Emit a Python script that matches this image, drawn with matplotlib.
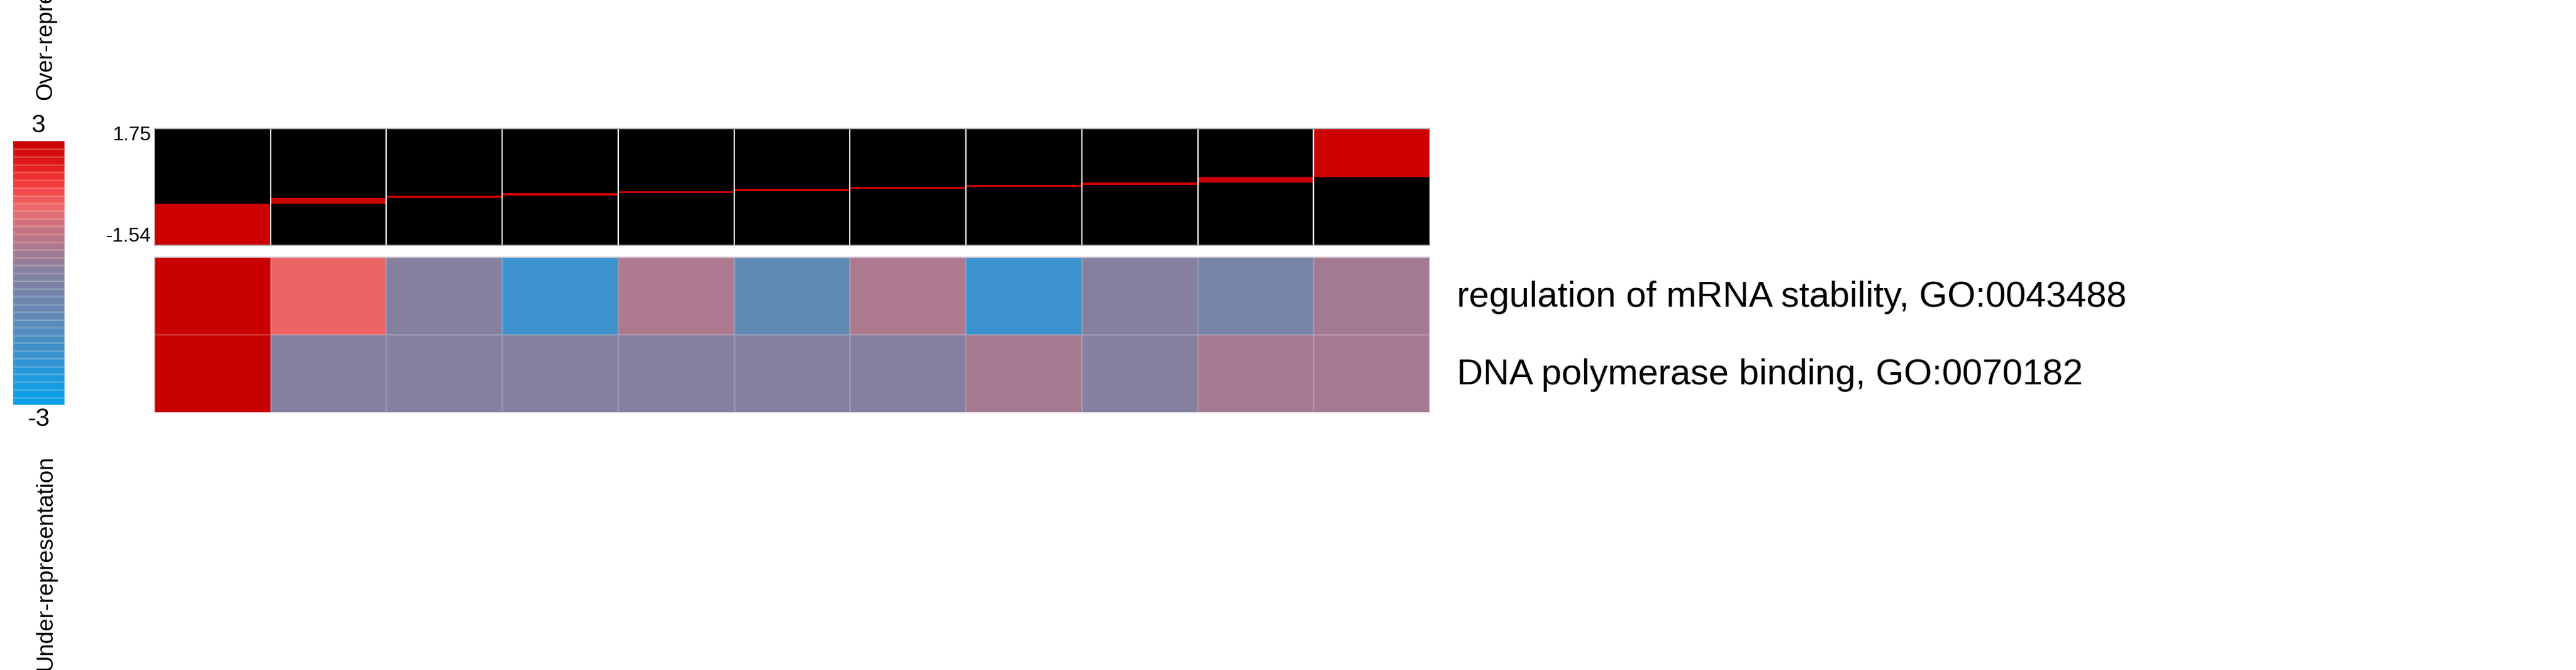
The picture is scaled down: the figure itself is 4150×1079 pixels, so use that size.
import numpy as np
import matplotlib
matplotlib.use("Agg")
import matplotlib.pyplot as plt
from matplotlib.colors import LinearSegmentedColormap, Normalize

plt.rcParams['font.family'] = ['Liberation Sans', 'DejaVu Sans']

# ---------------- data ----------------
bin_low = [-1.54, -0.37, -0.22, -0.15, -0.08, -0.02, 0.04, 0.10, 0.15, 0.23, 0.38]
bin_high = [-0.37, -0.22, -0.15, -0.08, -0.02, 0.04, 0.10, 0.15, 0.23, 0.38, 1.75]
range_ticks = [1.75, -1.54]

row_labels = ["regulation of mRNA stability, GO:0043488",
              "DNA polymerase binding, GO:0070182"]
row_mrna = [3.0, 1.55, 0.0, -1.8, 0.6, -1.0, 0.6, -1.8, 0.0, -0.38, 0.45]
row_dna = [3.0, 0.0, 0.0, 0.0, 0.0, 0.0, 0.0, 0.5, 0.0, 0.5, 0.5]

cbar_min, cbar_max = -3, 3
cbar_labels = ["3", "-3"]
cbar_titles = ["Over-representation", "Under-representation"]

# ---------------- colormap ----------------
anchors = [
    (0.000, (5, 160, 232)),
    (0.167, (50, 148, 210)),
    (0.333, (95, 138, 180)),
    (0.500, (132, 128, 160)),
    (0.583, (165, 122, 145)),
    (0.667, (200, 115, 128)),
    (0.750, (236, 106, 108)),
    (0.833, (246, 62, 62)),
    (0.917, (225, 25, 25)),
    (1.000, (200, 0, 0)),
]
cmap = LinearSegmentedColormap.from_list(
    "ipage", [(p, tuple(c / 255 for c in col)) for p, col in anchors])
norm = Normalize(vmin=cbar_min, vmax=cbar_max)

W, H = 4150, 1079
fig = plt.figure(figsize=(W / 100, H / 100), dpi=100)


def box(x0, y0, x1, y1):
    return [x0 / W, 1 - y1 / H, (x1 - x0) / W, (y1 - y0) / H]


n = len(bin_low)

# ---------------- top panel ----------------
ax_top = fig.add_axes(box(249, 207, 2303, 394.5))
ax_top.set_facecolor("black")
xs = np.arange(n)
ax_top.bar(xs, np.array(bin_high) - np.array(bin_low), bottom=bin_low,
           width=1.0, align="edge", color="#cc0000", linewidth=0)
for i in range(1, n):
    ax_top.axvline(i, color="white", lw=1.5)
ax_top.set_xlim(0, n)
ax_top.set_ylim(range_ticks[1], range_ticks[0])
ax_top.set_xticks([])
ax_top.set_yticks([])
for s in ["left", "right"]:
    ax_top.spines[s].set_visible(False)
for s in ["top", "bottom"]:
    ax_top.spines[s].set_color("#b0b0b0")
    ax_top.spines[s].set_linewidth(1.5)
ax_top.annotate(f"{range_ticks[0]:.2f}", xy=(0, range_ticks[0]), xytext=(-4, 3),
                textcoords="offset points", ha="right", va="top", fontsize=23)
ax_top.annotate(f"{range_ticks[1]:.2f}", xy=(0, range_ticks[1]), xytext=(-4, -1),
                textcoords="offset points", ha="right", va="bottom", fontsize=23)

# ---------------- heatmap ----------------
ax_hm = fig.add_axes(box(249, 414, 2303, 664))
data = np.array([row_mrna, row_dna])
ax_hm.pcolormesh(np.arange(n + 1), np.arange(len(row_labels) + 1), data,
                 cmap=cmap, norm=norm, edgecolors=(1, 1, 1, 0.12), linewidth=1.0)
ax_hm.set_xlim(0, n)
ax_hm.set_ylim(len(row_labels), 0)
ax_hm.set_xticks([])
ax_hm.set_yticks([])
for s in ["left", "right", "bottom"]:
    ax_hm.spines[s].set_visible(False)
ax_hm.spines["top"].set_color("#d8d0d8")
ax_hm.spines["top"].set_linewidth(1.5)
for i, lab in enumerate(row_labels):
    ax_hm.annotate(lab, xy=(n, i + 0.5), xytext=(31.5, -2), textcoords="offset points",
                   ha="left", va="center", fontsize=42)

# ---------------- colorbar ----------------
ax_cb = fig.add_axes(box(20.5, 227, 104, 652))
nb = 34
levels = np.linspace(cbar_min, cbar_max, nb + 1)
centers = (levels[:-1] + levels[1:]) / 2
ax_cb.pcolormesh([0, 1], levels, centers.reshape(-1, 1), cmap=cmap, norm=norm,
                 edgecolors=(1, 1, 1, 0.14), linewidth=0.8)
ax_cb.set_xlim(0, 1)
ax_cb.set_ylim(cbar_min, cbar_max)
ax_cb.axis("off")
fig.text(62 / W, 1 - 202 / H, cbar_labels[0], ha="center", va="center", fontsize=29)
fig.text(62 / W, 1 - 675 / H, cbar_labels[1], ha="center", va="center", fontsize=29)
fig.text(83 / W, 1 - 161 / H, cbar_titles[0], rotation=90, rotation_mode="anchor",
         ha="left", va="baseline", fontsize=26.5)
fig.text(83 / W, 1 - 733 / H, cbar_titles[1], rotation=90, rotation_mode="anchor",
         ha="right", va="baseline", fontsize=26.5)

fig.savefig("out.png", dpi=100, facecolor="white")
